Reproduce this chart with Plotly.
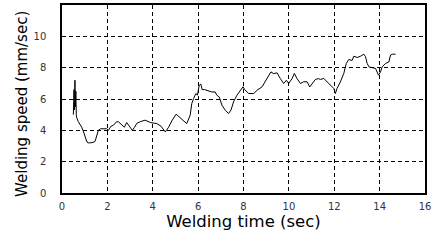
import plotly.graph_objects as go

time_s = [0.50, 0.53, 0.55, 0.57, 0.59, 0.61, 0.63, 0.65, 0.72, 0.80, 0.87, 0.95, 1.02, 1.10, 1.16, 1.24, 1.41, 1.46,
          1.54, 1.60, 1.70, 1.80, 1.97, 2.05, 2.15, 2.27, 2.40, 2.49, 2.60, 2.75, 2.85, 3.00, 3.10, 3.20,
          3.30, 3.45, 3.66, 3.90, 4.18, 4.36, 4.55, 4.70, 4.84, 5.03, 5.20, 5.35, 5.50, 5.65, 5.72,
          5.80, 5.90, 5.97, 6.05, 6.12, 6.18, 6.28, 6.45, 6.60, 6.75, 6.82, 6.93, 7.05, 7.20,
          7.34, 7.45, 7.56, 7.71, 7.86, 7.98, 8.05, 8.23, 8.45, 8.60, 8.82, 8.96, 9.10, 9.21,
          9.33, 9.48, 9.62, 9.77, 9.89, 9.99, 10.14, 10.24, 10.36, 10.51, 10.65, 10.80, 10.92,
          11.02, 11.17, 11.30, 11.39, 11.54, 11.69, 11.83, 11.98, 12.05, 12.12, 12.27, 12.42,
          12.53, 12.64, 12.79, 12.86, 13.01, 13.16, 13.30, 13.38, 13.45, 13.53, 13.67, 13.82,
          13.95, 14.04, 14.11, 14.26, 14.41, 14.48, 14.57, 14.70]
speed = [5.0, 6.6, 5.3, 7.2, 5.5, 6.5, 5.0, 4.8, 4.55, 4.35, 4.2, 3.9, 3.6, 3.25, 3.2, 3.2, 3.25, 3.3,
         3.7, 4.0, 4.1, 4.1, 4.1, 4.0, 4.25, 4.33, 4.55, 4.54, 4.4, 4.2, 4.5, 4.15, 4.0, 4.2,
         4.45, 4.55, 4.65, 4.5, 4.43, 4.27, 3.9, 4.2, 4.6, 5.03, 4.8, 4.6, 4.43, 4.97, 5.71,
         6.03, 6.35, 6.25, 6.88, 6.95, 6.6, 6.6, 6.5, 6.45, 6.45, 6.25, 6.13, 5.6, 5.28,
         5.07, 5.3, 5.81, 6.24, 6.56, 6.78, 6.6, 6.35, 6.35, 6.56, 6.78, 7.09, 7.41, 7.73,
         7.62, 7.67, 7.31, 6.99, 7.2, 6.99, 7.3, 7.63, 7.3, 6.99, 7.1, 7.1, 6.77,
         6.99, 7.25, 7.3, 7.25, 7.31, 7.1, 6.88, 6.67, 6.35, 6.67, 7.09, 7.63,
         8.27, 8.52, 8.46, 8.73, 8.65, 8.73, 8.86, 8.7, 8.27, 8.05, 8.0, 7.95,
         7.52, 7.73, 8.05, 8.27, 8.37, 8.8, 8.86, 8.86]

x_ticks = [0, 2, 4, 6, 8, 10, 12, 14, 16]
y_ticks = [0, 2, 4, 6, 8, 10, 12]

FONT = "DejaVu Sans, Arial"

fig = go.Figure()
fig.add_trace(go.Scatter(x=time_s, y=speed, mode="lines",
                         line=dict(color="black", width=1), showlegend=False))

common = dict(showgrid=True, gridcolor="black", griddash="4px,3px", gridwidth=1,
              showline=True, linecolor="black", linewidth=1.5, mirror=True,
              ticks="", zeroline=False, automargin=False,
              tickfont=dict(family=FONT, size=10, color="#333"))

fig.update_xaxes(range=[0, 16], tickvals=x_ticks, ticklabelstandoff=3,
                 title=dict(text="Welding time (sec)", standoff=2,
                            font=dict(family=FONT, size=16.5, color="black")),
                 **common)
fig.update_yaxes(range=[0, 12], tickvals=y_ticks, ticklabelstandoff=12, **common)

fig.add_annotation(text="Welding speed (mm/sec)", xref="paper", yref="paper",
                   x=-0.11, y=0.474, xanchor="center", yanchor="middle",
                   textangle=-90, showarrow=False,
                   font=dict(family=FONT, size=15, color="black"))

fig.update_layout(width=445, height=244, margin=dict(l=62, r=20, t=5, b=51),
                  plot_bgcolor="white", paper_bgcolor="white")
fig.write_html("out.html", config={"displayModeBar": False},
               post_script="document.body.style.margin='0px';document.body.style.overflow='hidden';")
